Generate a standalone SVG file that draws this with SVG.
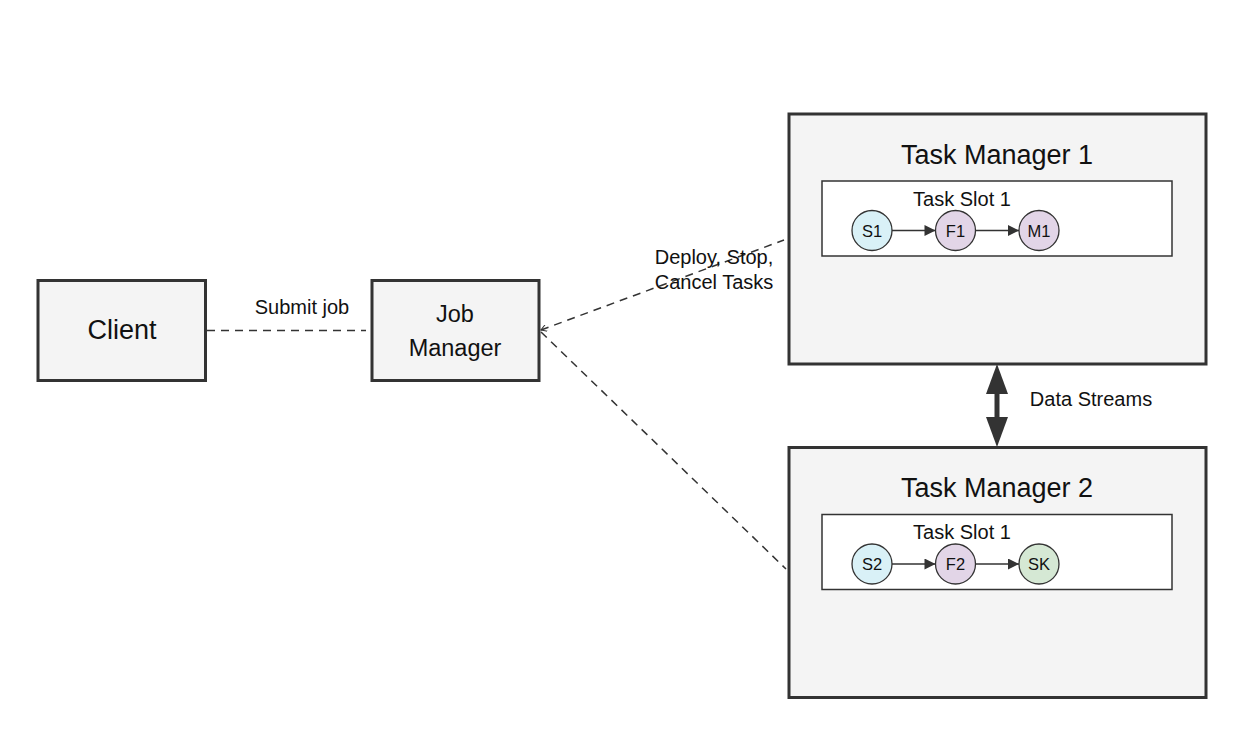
<svg xmlns="http://www.w3.org/2000/svg" width="1252" height="734" viewBox="0 0 1252 734">
<style>
text{font-family:"Liberation Sans",Arial,sans-serif;fill:#111;text-anchor:middle;dominant-baseline:central}
.box{fill:#f4f4f4;stroke:#333;stroke-width:3}
.slot{fill:#fff;stroke:#333;stroke-width:1.5}
.op{stroke:#333;stroke-width:1.3}
.dash{fill:none;stroke:#333;stroke-width:1.5;stroke-dasharray:8 6}
.flow{stroke:#333;stroke-width:1.5;fill:none;marker-end:url(#ah)}
.big{font-size:27px}
.mid{font-size:23.5px}
.lbl{font-size:20px}
.sm{font-size:16.5px}
</style>
<defs>
<marker id="ah" viewBox="0 0 10 10" refX="10" refY="5" markerWidth="15" markerHeight="11" markerUnits="userSpaceOnUse" orient="auto"><path d="M0,0L10,5L0,10z" fill="#333"/></marker>
<marker id="open" viewBox="0 0 10 10" refX="1" refY="5" markerWidth="7" markerHeight="7" markerUnits="userSpaceOnUse" orient="auto"><path d="M9,0L1,5L9,10" fill="none" stroke="#333" stroke-width="1.5"/></marker>
</defs>
<rect width="1252" height="734" fill="#fff"/>
<g id="client"><rect class="box" x="38" y="280.5" width="167.5" height="100"/><text class="big" x="122" y="330">Client</text></g>
<g id="jobmanager"><rect class="box" x="372" y="280.5" width="167" height="100"/><text class="mid" x="455" y="314">Job</text><text class="mid" x="455" y="348">Manager</text></g>
<g id="tm1"><rect class="box" x="789" y="114" width="417" height="250"/><text class="big" x="997" y="155">Task Manager 1</text>
<rect class="slot" x="822" y="181" width="350" height="75"/><text class="lbl" x="962" y="199">Task Slot 1</text>
<g id="s1"><circle class="op" cx="872" cy="230.5" r="20" fill="#d9f1f7"/><text class="sm" x="872" y="230.5">S1</text></g>
<g id="f1"><circle class="op" cx="955.5" cy="230.5" r="20" fill="#e2d5e7"/><text class="sm" x="955.5" y="230.5">F1</text></g>
<g id="m1"><circle class="op" cx="1039" cy="230.5" r="20" fill="#e2d5e7"/><text class="sm" x="1039" y="230.5">M1</text></g>
<path class="flow" d="M892,230.5H935.5"/><path class="flow" d="M975.5,230.5H1019"/>
</g>
<g id="tm2"><rect class="box" x="789" y="447.5" width="417" height="250"/><text class="big" x="997" y="488">Task Manager 2</text>
<rect class="slot" x="822" y="514.5" width="350" height="75"/><text class="lbl" x="962" y="532">Task Slot 1</text>
<g id="s2"><circle class="op" cx="872" cy="564" r="20" fill="#d9f1f7"/><text class="sm" x="872" y="564">S2</text></g>
<g id="f2"><circle class="op" cx="955.5" cy="564" r="20" fill="#e2d5e7"/><text class="sm" x="955.5" y="564">F2</text></g>
<g id="sk"><circle class="op" cx="1039" cy="564" r="20" fill="#d5e8d4"/><text class="sm" x="1039" y="564">SK</text></g>
<path class="flow" d="M892,564H935.5"/><path class="flow" d="M975.5,564H1019"/>
</g>
<g id="connectors">
<path class="dash" d="M207,330.5H366"/>
<text class="lbl" x="302" y="307">Submit job</text>
<path class="dash" d="M541,330L784,240" marker-start="url(#open)"/>
<path class="dash" d="M541,332L786,569"/>
<text class="lbl" x="714" y="257">Deploy, Stop,</text>
<text class="lbl" x="714" y="282">Cancel Tasks</text>
<path d="M997,390V420" stroke="#333" stroke-width="5"/>
<path d="M997,364L1008,394H986z" fill="#333"/>
<path d="M997,447L1008,417H986z" fill="#333"/>
<text class="lbl" x="1091" y="399">Data Streams</text>
</g>
</svg>
